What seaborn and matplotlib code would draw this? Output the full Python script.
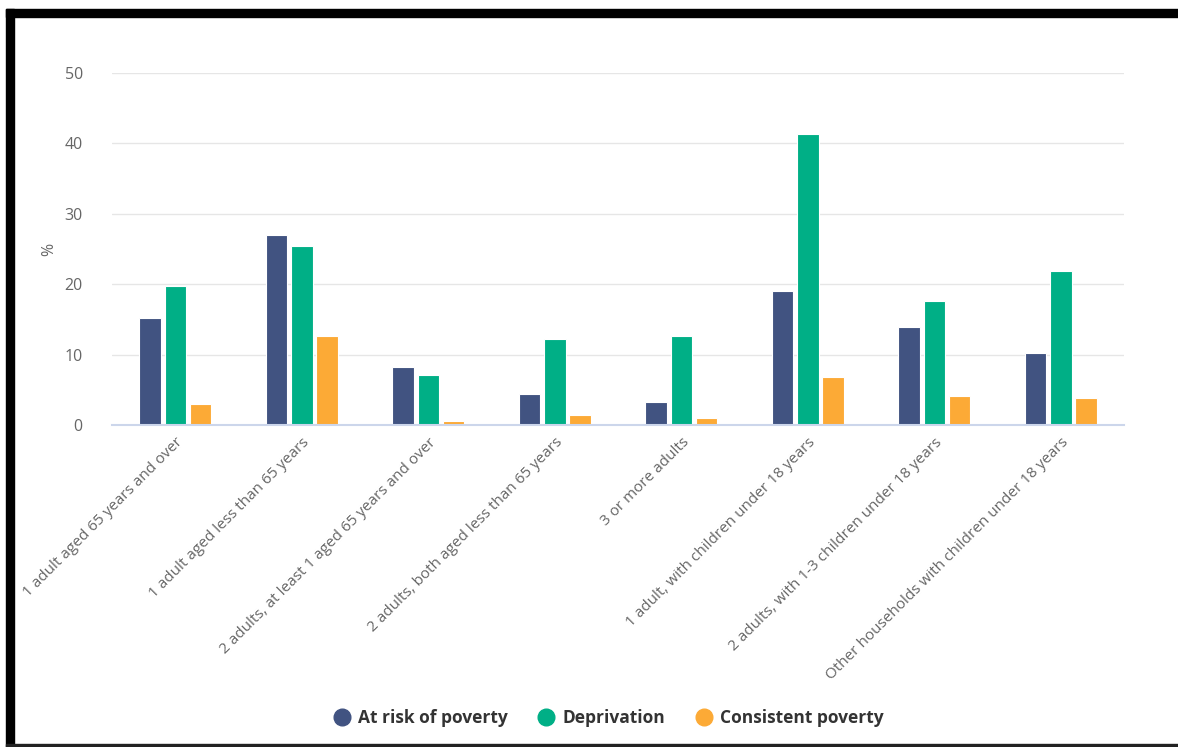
import pandas as pd
import matplotlib.pyplot as plt
import seaborn as sns
from matplotlib.lines import Line2D
from matplotlib.patches import Rectangle

# household types and the three indicators (%)
households = [
    '1 adult aged 65 years and over',
    '1 adult aged less than 65 years',
    '2 adults, at least 1 aged 65 years and over',
    '2 adults, both aged less than 65 years',
    '3 or more adults',
    '1 adult, with children under 18 years',
    '2 adults, with 1-3 children under 18 years',
    'Other households with children under 18 years',
]
at_risk = [15.2, 27.0, 8.3, 4.5, 3.3, 19.0, 14.0, 10.3]
deprivation = [19.8, 25.5, 7.1, 12.3, 12.6, 41.3, 17.6, 21.9]
consistent = [3.0, 12.7, 0.6, 1.4, 1.0, 6.9, 4.2, 3.85]

series_names = ['At risk of poverty', 'Deprivation', 'Consistent poverty']
series_colors = ['#415381', '#00af86', '#fcaa36']
y_ticks = [0, 10, 20, 30, 40, 50]

df = pd.DataFrame({
    'household': households * 3,
    'indicator': [s for s in series_names for _ in households],
    'value': at_risk + deprivation + consistent,
})

sns.set_style('white')
plt.rcParams['font.family'] = ['Open Sans', 'DejaVu Sans']

fig = plt.figure(figsize=(11.78, 7.47), dpi=100)
ax = fig.add_axes([0.0951, 0.4307, 0.8591, 0.4716])

sns.barplot(data=df, x='household', y='value', hue='indicator',
            palette=series_colors, hue_order=series_names, saturation=1,
            width=0.6, gap=0.15, edgecolor='white', linewidth=0.8,
            legend=False, ax=ax)

ax.set_xlim(-0.5, len(households) - 0.5)
ax.set_ylim(0, 50)
ax.set_yticks(y_ticks)
ax.set_yticklabels([str(t) for t in y_ticks], fontsize=11.5, color='#666666')
ax.yaxis.grid(True, color='#e6e6e6', linewidth=1)
ax.set_axisbelow(True)
ax.tick_params(axis='y', length=0, pad=21)
ax.tick_params(axis='x', length=0, pad=7)
ax.set_xticks(range(len(households)))
ax.set_xticklabels(households, rotation=45, ha='right', rotation_mode='anchor',
                   fontsize=11, color='#666666')
ax.set_xlabel('')
ax.set_ylabel('%', fontsize=11.5, color='#666666', labelpad=5)

for side in ['top', 'right', 'left']:
    ax.spines[side].set_visible(False)
ax.spines['bottom'].set_color('#ccd6eb')
ax.spines['bottom'].set_linewidth(1.5)

handles = [Line2D([0], [0], marker='o', linestyle='', markersize=12,
                  markerfacecolor=c, markeredgecolor=c) for c in series_colors]
fig.legend(handles, series_names, loc='center', bbox_to_anchor=(0.515, 0.039),
           ncol=3, frameon=False, handlelength=1.4, handletextpad=0.25,
           columnspacing=1.5, prop={'size': 12.5, 'weight': 'bold'},
           labelcolor='#333333')

# black frame around the screenshot
fig.add_artist(Rectangle((6 / 1178, 0), 8 / 1178, 0.988, transform=fig.transFigure,
                         color='black', zorder=10))
fig.add_artist(Rectangle((6 / 1178, 0.9772), 1, 8 / 747, transform=fig.transFigure,
                         color='black', zorder=10))
fig.add_artist(Rectangle((6 / 1178, 0), 1, 3 / 747, transform=fig.transFigure,
                         color='#222222', zorder=10))

fig.savefig('out.png', dpi=100)
